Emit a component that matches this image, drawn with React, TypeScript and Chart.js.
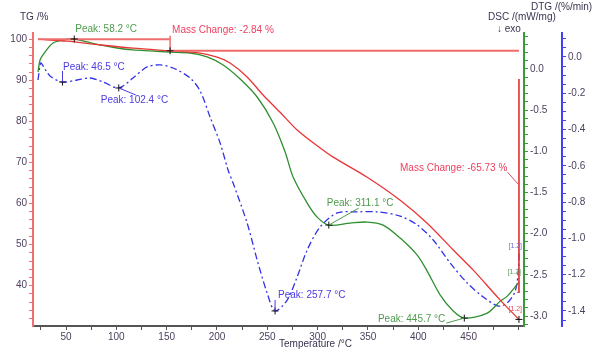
import React, { useEffect, useRef } from 'react';
import { Chart, registerables } from 'chart.js';

Chart.register(...registerables);

// ---- Data ----
const tgTemp = [22.2, 51.0, 83.8, 116.6, 153.4, 180.2, 200.1, 213.0, 229.9, 245.8, 262.7, 279.6, 302.5, 315.4, 349.2, 382.0, 408.8, 434.7, 454.6, 481.4, 500.0];
const tgMass = [100.0, 99.5, 98.6, 97.8, 97.16, 96.7, 95.6, 94.2, 90.8, 86.4, 82.2, 77.9, 73.5, 71.3, 66.4, 60.8, 55.2, 48.7, 43.8, 36.5, 31.8];

const dscTemp = [22.2, 24.2, 29.1, 37.1, 47.0, 58.2, 70.9, 83.8, 100.7, 116.6, 133.5, 153.4, 173.3, 190.2, 206.1, 223.0, 239.9, 255.8, 267.7, 275.6, 289.6, 299.5, 311.1, 332.3, 349.2, 365.1, 382.0, 398.9, 408.8, 421.8, 434.7, 445.7, 468.5, 481.4, 488.4, 500.0];
const dscValue = [-0.036, 0.109, 0.206, 0.316, 0.352, 0.364, 0.328, 0.292, 0.255, 0.231, 0.219, 0.206, 0.194, 0.146, 0.049, -0.121, -0.340, -0.656, -1.008, -1.312, -1.628, -1.798, -1.895, -1.871, -1.858, -1.895, -2.053, -2.259, -2.453, -2.745, -2.939, -3.024, -2.963, -2.818, -2.757, -2.587];

const dtgTemp = [22.2, 24.2, 25.2, 34.1, 46.5, 61.0, 73.9, 86.8, 102.4, 116.6, 130.5, 143.4, 156.4, 173.3, 183.2, 193.1, 203.1, 211.0, 216.0, 229.9, 239.9, 249.8, 257.7, 269.7, 279.6, 289.6, 302.5, 319.4, 339.3, 359.1, 382.0, 398.9, 414.8, 431.7, 448.6, 464.5, 479.4, 488.4, 496.3, 499.4, 500.0];
const dtgValue = [-0.127, -0.044, -0.033, -0.105, -0.138, -0.127, -0.116, -0.138, -0.171, -0.116, -0.055, -0.044, -0.061, -0.116, -0.187, -0.331, -0.474, -0.623, -0.695, -0.915, -1.119, -1.301, -1.400, -1.340, -1.213, -1.064, -0.937, -0.860, -0.854, -0.854, -0.877, -0.926, -1.009, -1.136, -1.246, -1.323, -1.373, -1.356, -1.290, -1.174, -1.064];

// Tick labels
const xLabels = [50, 100, 150, 200, 250, 300, 350, 400, 450];
const tgLabels = [40, 50, 60, 70, 80, 90, 100];
const dscLabels = [0, -0.5, -1.0, -1.5, -2.0, -2.5, -3.0];
const dtgLabels = [0, -0.2, -0.4, -0.6, -0.8, -1.0, -1.2, -1.4];

// Peak annotations: [text, axis, temperature, value]
const peakNames = ['Peak: 58.2 °C', 'Peak: 46.5 °C', 'Peak: 102.4 °C', 'Peak: 257.7 °C', 'Peak: 311.1 °C', 'Peak: 445.7 °C'];
const peakAxis = ['yDSC', 'yDTG', 'yDTG', 'yDTG', 'yDSC', 'yDSC'];
const peakTemp = [58.2, 46.5, 102.4, 257.7, 311.1, 445.7];
const peakValue = [0.364, -0.138, -0.171, -1.400, -1.895, -3.024];

// Mass change steps
const massChange1 = { label: 'Mass Change: -2.84 %', startT: 22.2, stepT: 153.4, from: 100, to: 97.16, endT: 500 };
const massChange2 = { label: 'Mass Change: -65.73 %', T: 500, top: 90.3, bottom: 38.4 };

const FONT = "'Liberation Sans', Arial, sans-serif";
const RED = '#e83535';
const GREEN = '#2f8f2f';
const BLUE = '#3232e6';
const TICKTXT = '#4a3f5c';

function minorTicks(lo: number, hi: number, step: number) {
  const out: { value: number }[] = [];
  const n0 = Math.ceil(lo / step - 1e-9);
  const n1 = Math.floor(hi / step + 1e-9);
  for (let i = n0; i <= n1; i++) out.push({ value: +(i * step).toFixed(4) });
  return out;
}
const isIn = (arr: number[], v: number) => arr.some((a) => Math.abs(a - v) < 1e-6);

export default function App() {
  const ref = useRef<HTMLCanvasElement | null>(null);

  useEffect(() => {
    if (!ref.current) return;
    const annot = {
      id: 'annot',
      afterDraw(chart: any) {
        const { ctx, scales } = chart;
        const X = (t: number) => scales.x.getPixelForValue(t);
        const Y = (id: string, v: number) => scales[id].getPixelForValue(v);
        const line = (x1: number, y1: number, x2: number, y2: number, color: string, w = 1) => {
          ctx.strokeStyle = color; ctx.lineWidth = w; ctx.setLineDash([]);
          ctx.beginPath(); ctx.moveTo(x1, y1); ctx.lineTo(x2, y2); ctx.stroke();
        };
        const text = (s: string, x: number, y: number, color: string, align = 'left', size = 10) => {
          ctx.fillStyle = color; ctx.font = `${size}px ${FONT}`;
          ctx.textAlign = align; ctx.textBaseline = 'middle';
          ctx.fillText(s, x, y);
        };
        const plus = (x: number, y: number) => {
          line(x - 3.5, y, x + 3.5, y, '#111', 1);
          line(x, y - 3.5, x, y + 3.5, '#111', 1);
        };
        ctx.save();
        // Mass change 1
        const m1 = massChange1;
        const sx = X(m1.stepT);
        line(X(m1.startT), Y('yTG', m1.from), sx, Y('yTG', m1.from), '#ee6e6e', 2);
        line(sx, Y('yTG', m1.from) - 3.5, sx, Y('yTG', m1.to), '#ee6e6e', 1.5);
        line(sx, Y('yTG', m1.to), X(m1.endT), Y('yTG', m1.to), '#f06a6a', 2);
        text(m1.label, sx + 2, Y('yTG', m1.from) - 9, '#ec4060');
        plus(sx, Y('yTG', m1.to));
        // Mass change 2
        const m2 = massChange2;
        const mx = X(m2.T);
        line(mx, Y('yTG', m2.top), mx, Y('yTG', m2.bottom), '#e03030', 1.6);
        line(mx - 2, Y('yTG', m2.bottom), mx + 1, Y('yTG', m2.bottom), '#e03030', 1);
        const ly = Y('yTG', 68.6);
        text(m2.label, X(488.4), ly, '#ec4060', 'right');
        line(X(488.6), ly + 4, mx, Y('yTG', 64.5), '#e05060', 1);
        plus(mx, Y('yTG', tgMass[tgMass.length - 1]));
        // Peaks
        const greenTxt = '#4e9a4e';
        const blueTxt = '#4b3bdf';
        peakNames.forEach((name, i) => {
          const px = X(peakTemp[i]);
          const py = Y(peakAxis[i], peakValue[i]);
          plus(px, py);
          if (i === 0) {
            text(name, px + 1, py - 10, greenTxt);
          } else if (i === 1) {
            line(px, py, px, py - 11, blueTxt, 1);
            text(name, px + 0.5, py - 15, blueTxt);
          } else if (i === 2) {
            line(px, py, px + 17, py + 7, blueTxt, 1);
            text(name, px - 18, py + 12, blueTxt);
          } else if (i === 3) {
            line(px, py, px, py - 11, blueTxt, 1);
            text(name, px + 3, py - 16, blueTxt);
          } else if (i === 4) {
            line(px, py, px + 30, py - 17, greenTxt, 1);
            text(name, px - 2, py - 22, greenTxt);
          } else if (i === 5) {
            line(px, py, px - 18, py + 5, greenTxt, 1);
            text(name, px - 19, py + 1, greenTxt, 'right');
          }
        });
        // curve ID tags
        text('[1.2]', X(496.3), Y('yDTG', -1.042), '#6a6ae0', 'center', 7);
        text('[1.2]', X(495.3), Y('yDSC', -2.466), '#5a9a5a', 'center', 7);
        text('[1.2]', X(496.3), Y('yTG', 34.3), '#e05060', 'center', 7);
        // axis titles
        const tc = '#3c3350';
        text('TG /%', 20, 17, tc);
        text('DTG /(%/min)', 531, 7, tc);
        text('DSC /(mW/mg)', 488, 17, tc);
        text('↓ exo', 497, 29, tc);
        text('Temperature /°C', 279, 344, tc);
        ctx.restore();
      },
    };

    const chart = new Chart(ref.current, {
      type: 'line',
      data: {
        datasets: [
          {
            label: 'TG',
            data: tgTemp.map((t, i) => ({ x: t, y: tgMass[i] })),
            yAxisID: 'yTG',
            borderColor: RED,
            borderWidth: 1.3,
            pointRadius: 0,
            tension: 0.3,
            fill: false,
          },
          {
            label: 'DSC',
            data: dscTemp.map((t, i) => ({ x: t, y: dscValue[i] })),
            yAxisID: 'yDSC',
            borderColor: GREEN,
            borderWidth: 1.3,
            pointRadius: 0,
            tension: 0.3,
            fill: false,
          },
          {
            label: 'DTG',
            data: dtgTemp.map((t, i) => ({ x: t, y: dtgValue[i] })),
            yAxisID: 'yDTG',
            borderColor: BLUE,
            borderWidth: 1.3,
            borderDash: [7, 3, 2, 3],
            pointRadius: 0,
            tension: 0.3,
            fill: false,
          },
        ],
      },
      options: {
        responsive: false,
        devicePixelRatio: 1,
        animation: false,
        layout: { padding: { top: 33, left: 0, right: 0, bottom: 0 } },
        plugins: { legend: { display: false }, tooltip: { enabled: false } },
        elements: { line: { borderCapStyle: 'butt' } },
        scales: {
          x: {
            type: 'linear',
            position: 'bottom',
            min: 17.2,
            max: 505,
            afterBuildTicks: (s: any) => { s.ticks = minorTicks(25, 500, 25); },
            afterFit: (s: any) => { s.height = 28; },
            ticks: {
              callback: (v: any) => (isIn(xLabels, v) ? String(v) : ''),
              color: TICKTXT, font: { family: FONT, size: 10 }, padding: 1, maxRotation: 0, autoSkip: false,
            },
            grid: { drawOnChartArea: false, drawTicks: true, tickLength: 4, tickColor: '#555' },
            border: { color: '#555', width: 2 },
          },
          yTG: {
            type: 'linear',
            position: 'left',
            min: 30.2,
            max: 101.5,
            afterBuildTicks: (s: any) => { s.ticks = minorTicks(32, 100, 2); },
            afterFit: (s: any) => { s.width = 33; },
            ticks: {
              callback: (v: any) => (isIn(tgLabels, v) ? String(v) : ''),
              color: TICKTXT, font: { family: FONT, size: 10 }, padding: 2, autoSkip: false,
            },
            grid: { drawOnChartArea: false, drawTicks: true, tickLength: 4, tickColor: '#f07070' },
            border: { color: '#f07070', width: 2 },
          },
          yDSC: {
            type: 'linear',
            position: 'right',
            weight: 0,
            min: -3.12,
            max: 0.437,
            afterBuildTicks: (s: any) => { s.ticks = minorTicks(-3.1, 0.4, 0.1); },
            afterFit: (s: any) => { s.width = 38; },
            ticks: {
              callback: (v: any) => (isIn(dscLabels, v) ? Number(v).toFixed(1) : ''),
              color: TICKTXT, font: { family: FONT, size: 10 }, padding: 2, autoSkip: false,
            },
            grid: { drawOnChartArea: false, drawTicks: true, tickLength: 4, tickColor: '#3a9a3a' },
            border: { color: '#3a9a3a', width: 2 },
          },
          yDTG: {
            type: 'linear',
            position: 'right',
            weight: 1,
            min: -1.483,
            max: 0.132,
            afterBuildTicks: (s: any) => { s.ticks = minorTicks(-1.45, 0.1, 0.05); },
            afterFit: (s: any) => { s.width = 38; },
            ticks: {
              callback: (v: any) => (isIn(dtgLabels, v) ? Number(v).toFixed(1) : ''),
              color: TICKTXT, font: { family: FONT, size: 10 }, padding: 2, autoSkip: false,
            },
            grid: { drawOnChartArea: false, drawTicks: true, tickLength: 4, tickColor: '#4040ff' },
            border: { color: '#4040ff', width: 2 },
          },
        },
      } as any,
      plugins: [annot as any],
    });
    return () => chart.destroy();
  }, []);

  return (
    <div style={{ position: 'fixed', left: 0, top: 0, width: 600, height: 354, background: '#fff' }}>
      <canvas ref={ref} width={600} height={354} style={{ width: 600, height: 354, display: 'block' }} />
    </div>
  );
}
